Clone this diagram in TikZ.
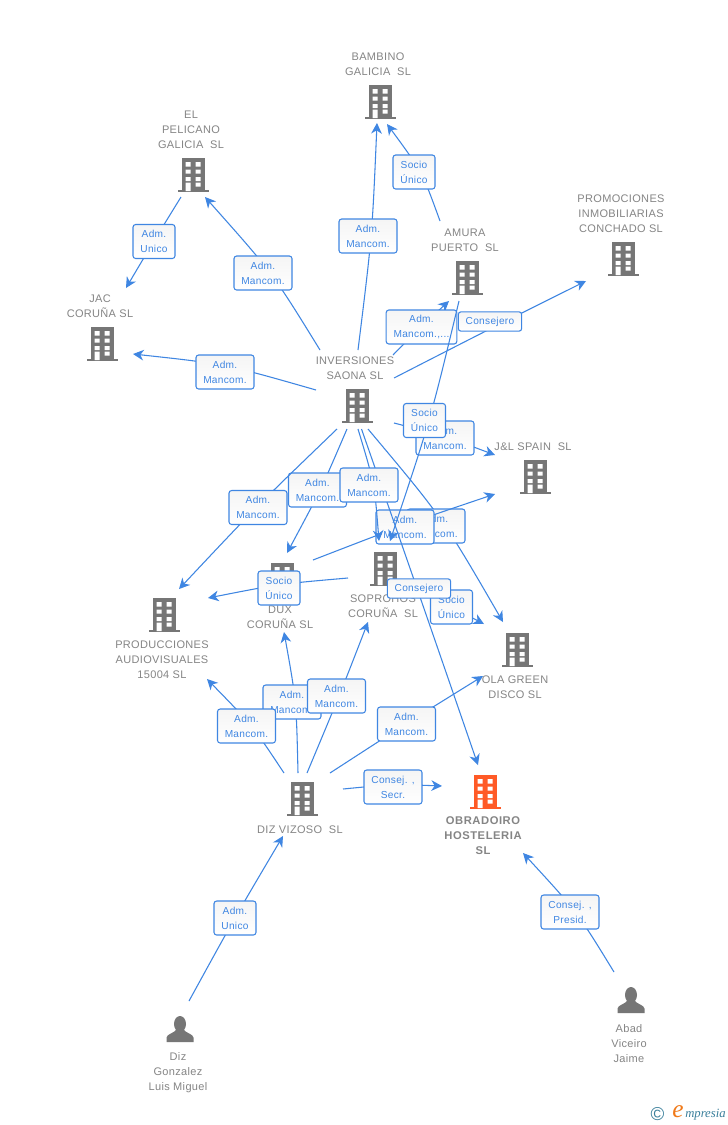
\documentclass[tikz,border=0pt]{standalone}
\usepackage{fontspec}
\setmainfont{Liberation Sans}
\newfontfamily\logofont{Liberation Serif}
\usetikzlibrary{arrows.meta,calc}
\definecolor{lnk}{HTML}{3F86E2}
\definecolor{lbl}{HTML}{858585}
\definecolor{ico}{HTML}{767676}
\definecolor{org}{HTML}{FF5A26}
\definecolor{teal}{HTML}{3A7F9B}
\definecolor{logoor}{HTML}{F07A1A}
\colorlet{F4}{black!4}
\tikzset{
  x=0.75pt,y=-0.75pt,
  cline/.style={draw=lnk,line width=0.8pt,-{Stealth[length=8pt,width=8pt,inset=2.5pt]}},
  cbox/.style={draw=lnk,line width=0.8pt,rounded corners=2pt,top color=F4,bottom color=white,text=lnk,
    font=\fontsize{7.6}{11.25}\selectfont\addfontfeature{LetterSpace=3},align=center,inner sep=0pt,
    minimum width=43.5pt,minimum height=25.5pt},
  sbox/.style={cbox,minimum width=31.5pt},
  wbox/.style={cbox,minimum width=47.5pt,minimum height=14.5pt},
  mbox/.style={cbox,minimum width=53pt},
  ttl/.style={text=lbl,font=\fontsize{8.25}{11.25}\selectfont\addfontfeature{LetterSpace=3},align=center,inner sep=0pt},
  bttl/.style={ttl,font=\fontsize{8.4}{11.25}\selectfont\bfseries\addfontfeature{LetterSpace=5}},
  bodyst/.style={inner sep=0pt,minimum width=17.25pt,minimum height=25pt},
  pst/.style={inner sep=0pt,minimum width=20pt,minimum height=20pt}
}
% building icon: name, centre x, top y, colour
\newcommand{\bld}[4]{%
  \begin{scope}[shift={(#2,#3)}]
    \node[bodyst,fill=#4] (#1) at (0,16.5) {};
    \fill[#4] (-15.5,32) rectangle (15.5,34);
    \fill[white] (-7.5,4) rectangle (-2.5,8.5) (2.5,4) rectangle (7.5,8.5)
      (-7.5,11.5) rectangle (-2.5,15.5) (2.5,11.5) rectangle (7.5,15.5)
      (-7.5,19) rectangle (-2.5,23) (2.5,19) rectangle (7.5,23)
      (-7.5,24.5) rectangle (-2.5,33) (2.5,24.5) rectangle (7.5,28.5);
  \end{scope}}
% person icon: name, centre x, top y
\newcommand{\prs}[3]{%
  \begin{scope}[shift={(#2,#3)}]
    \node[pst] (#1) at (0,13) {};
    \fill[ico] (0,8) ellipse (6 and 8);
    \fill[ico] (-13.5,26) -- (-13.5,21.5) .. controls (-13,18) and (-6,17) .. (-4,14) -- (4,14) .. controls (6,17) and (13,18) .. (13.5,21.5) -- (13.5,26) -- cycle;
  \end{scope}}
% connector: id, start, via, end, box style, box centre, text
\newcommand{\lnkk}[7]{%
  \coordinate (#1s) at (#2);
  \coordinate (#1v) at (#3);
  \coordinate (#1t) at (#4);
  \draw[cline] (#1s) .. controls ($1.3333*(#1v)-0.16667*(#1s)-0.16667*(#1t)$) .. (#1t);
  \node[#5] (#1l) at (#6) {#7};}
\begin{document}
\begin{tikzpicture}
\useasboundingbox (0,0) rectangle (728,1125);
\fill[white] (0,0) rectangle (728,1125);
% icons
\bld{bambino}{380}{85}{ico}
\bld{pelicano}{193}{158}{ico}
\bld{promo}{623}{242}{ico}
\bld{amura}{467}{261}{ico}
\bld{jac}{102}{327}{ico}
\bld{inv}{357}{389}{ico}
\bld{jl}{535}{460}{ico}
\bld{dux}{282}{563}{ico}
\bld{sop}{385}{552}{ico}
\bld{prod}{164}{598}{ico}
\bld{ola}{517}{633}{ico}
\bld{diz}{302}{782}{ico}
\bld{obra}{485}{775}{org}
\prs{abad}{631}{987}
\prs{dizg}{180}{1016}
% titles
\node[ttl] (tbambino) at (378,64) {BAMBINO\\GALICIA\ \ SL};
\node[ttl] (tpelicano) at (191,129.5) {EL\\PELICANO\\GALICIA\ \ SL};
\node[ttl] (tpromo) at (621,213.5) {PROMOCIONES\\INMOBILIARIAS\\CONCHADO SL};
\node[ttl] (tamura) at (465,240) {AMURA\\PUERTO\ \ SL};
\node[ttl] (tjac) at (100,306) {JAC\\CORUÑA SL};
\node[ttl] (tinv) at (355,368) {INVERSIONES\\SAONA SL};
\node[ttl] (tjl) at (533,446.5) {J\&L SPAIN\ \ SL};
\node[ttl] (tdux) at (280,617) {DUX\\CORUÑA SL};
\node[ttl] (tsop) at (383,606) {SOPROHOS\\CORUÑA\ \ SL};
\node[ttl] (tprod) at (162,659.5) {PRODUCCIONES\\AUDIOVISUALES\\15004 SL};
\node[ttl] (tola) at (515,687) {OLA GREEN\\DISCO SL};
\node[ttl] (tdiz) at (300,829.5) {DIZ VIZOSO\ \ SL};
\node[bttl] (tobra) at (483,835.5) {OBRADOIRO\\HOSTELERIA\\SL};
\node[ttl] (tabad) at (629,1043.5) {Abad\\Viceiro\\Jaime};
\node[ttl] (tdizg) at (178,1072.5) {Diz\\Gonzalez\\Luis Miguel};
% connectors
\lnkk{a}{358,350}{371,236}{377,123}{cbox}{368,236}{Adm.\\Mancom.}
\lnkk{b}{440,221}{420,172}{387,124}{sbox}{414,172}{Socio\\Único}
\lnkk{c}{181,197}{154,241}{126,288}{sbox}{154,241.5}{Adm.\\Unico}
\lnkk{d}{320,350}{270,273}{205,197}{cbox}{263,273}{Adm.\\Mancom.}
\lnkk{e}{316,390}{225,366}{133,354}{cbox}{225,372}{Adm.\\Mancom.}
\lnkk{f}{393,355}{421,327}{449,301}{mbox}{421.5,327}{Adm.\\Mancom.,...}
\lnkk{g}{394,378}{490,329}{586,281}{wbox}{490,321.5}{Consejero}
\lnkk{h}{394,423}{445,437}{495,455}{cbox}{445,438}{Adm.\\Mancom.}
\lnkk{n}{368,429}{441,520}{503,622}{cbox}{436,526}{Adm.\\Mancom.}
\lnkk{o}{313,560}{405,525}{495,494}{cbox}{405,527}{Adm.\\Mancom.}
\lnkk{i}{459,301}{429,420}{390,541}{sbox}{424.5,420.5}{Socio\\Único}
\lnkk{q}{405,585}{451,607}{484,624}{sbox}{451.5,607}{Socio\\Único}
\lnkk{m}{361.5,429}{420,597}{478,765}{wbox}{419,588.5}{Consejero}
\lnkk{k}{347,429}{320,490}{287,553}{cbox}{317.5,490}{Adm.\\Mancom.}
\lnkk{l}{337,429}{257,507}{179,589}{cbox}{258,507.5}{Adm.\\Mancom.}
\lnkk{j}{358,429}{373,484}{379,541}{cbox}{369,485}{Adm.\\Mancom.}
\lnkk{p}{348,578}{279,585}{208,598}{sbox}{279,588}{Socio\\Único}
\lnkk{r}{298,773}{295,701}{284,632}{cbox}{292,702}{Adm.\\Mancom.}
\lnkk{t}{284,773}{251,726}{207,679}{cbox}{246.5,726}{Adm.\\Mancom.}
\lnkk{s}{307,773}{339,696}{368,622}{cbox}{336.5,696}{Adm.\\Mancom.}
\lnkk{u}{330,773}{406,724}{483,676}{cbox}{406.5,724}{Adm.\\Mancom.}
\lnkk{v}{343,789}{393,785}{442,786}{cbox}{393,787}{Consej. ,\\Secr.}
\lnkk{w}{189,1001}{235,918}{283,836}{sbox}{235,918}{Adm.\\Unico}
\lnkk{x}{614,972}{575,912}{523,853}{cbox}{570,912}{Consej. ,\\Presid.}
% logo
\node[text=teal,inner sep=0pt,font=\fontsize{14}{14}\selectfont] (copy) at (657.5,1114) {©};
\node[text=logoor,inner sep=0pt,font=\logofont\fontsize{19}{19}\selectfont\itshape] (logoe) at (678,1111.5) {e};
\node[text=teal,inner sep=0pt,anchor=west,font=\logofont\fontsize{9.5}{10}\selectfont\itshape] (logot) at (685,1114.5) {mpresia};
\end{tikzpicture}
\end{document}
